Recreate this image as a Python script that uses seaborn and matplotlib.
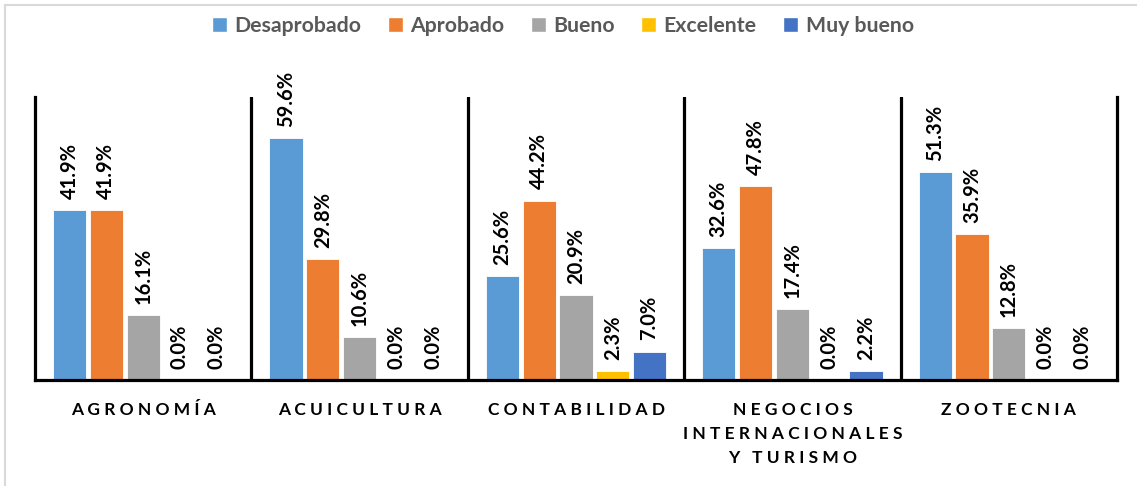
import seaborn as sns
import matplotlib.pyplot as plt
import pandas as pd
from matplotlib.patches import Patch
from matplotlib.lines import Line2D

# -------------- DONNEES -------------------#
carreras = ["AGRONOMÍA", "ACUICULTURA", "CONTABILIDAD",
            "NEGOCIOS\nINTERNACIONALES\nY TURISMO", "ZOOTECNIA"]
niveles = ["Desaprobado", "Aprobado", "Bueno", "Excelente", "Muy bueno"]
desaprobado = [41.9, 59.6, 25.6, 32.6, 51.3]
aprobado = [41.9, 29.8, 44.2, 47.8, 35.9]
bueno = [16.1, 10.6, 20.9, 17.4, 12.8]
excelente = [0.0, 0.0, 2.3, 0.0, 0.0]
muy_bueno = [0.0, 0.0, 7.0, 2.2, 0.0]
colores = ["#5B9BD5", "#ED7D31", "#A5A5A5", "#FFC000", "#4472C4"]

series = [desaprobado, aprobado, bueno, excelente, muy_bueno]
filas = []
for nivel, vals in zip(niveles, series):
    for c, v in zip(carreras, vals):
        filas.append({"carrera": c, "nivel": nivel, "pct": v})
df = pd.DataFrame(filas)


def espaciado(texto):
    # simulate letter spacing of the original labels
    lineas = []
    for linea in texto.split("\n"):
        palabras = [" ".join(p) for p in linea.split(" ")]
        lineas.append("   ".join(palabras))
    return "\n".join(lineas)


sns.set_theme(style="white")
plt.rcParams["font.family"] = ["Lato", "DejaVu Sans"]

fig = plt.figure(figsize=(11.37, 4.86), dpi=100)
ax = fig.add_axes([35 / 1137, 1 - 380 / 486, 1082 / 1137, 283 / 486])

sns.barplot(data=df, x="carrera", y="pct", hue="nivel", hue_order=niveles,
            order=carreras, palette=colores, saturation=1, width=0.85, gap=0.1,
            edgecolor="white", linewidth=0.6, ax=ax, legend=False)

for cont in ax.containers:
    ax.bar_label(cont, fmt="{:.1f}%", rotation=90, padding=8,
                 fontsize=14.5, fontweight="bold", color="black")

ax.set_xlim(-0.5, 4.5)
ax.set_ylim(0, 69.7)
ax.set_yticks([])
ax.set_xlabel("")
ax.set_ylabel("")
ax.set_xticks(range(len(carreras)))
ax.set_xticklabels([espaciado(c) for c in carreras], fontsize=12.5,
                   fontweight="bold", color="black", linespacing=1.6,
                   va="top")
ax.tick_params(axis="x", length=0, pad=16)

for s in ["left", "right", "bottom"]:
    ax.spines[s].set_color("black")
    ax.spines[s].set_linewidth(2.3)
ax.spines["top"].set_visible(False)
for xs in [0.5, 1.5, 2.5, 3.5]:
    ax.axvline(xs, color="black", linewidth=2.3)

handles = [Patch(facecolor=c, label=n) for c, n in zip(colores, niveles)]
leg = fig.legend(handles=handles, loc="center", bbox_to_anchor=(0.495, 0.946),
                 ncol=5, frameon=False, handlelength=0.7, handleheight=0.7,
                 handletextpad=0.35, columnspacing=1.25,
                 prop={"size": 15.3, "weight": "bold"})
for t in leg.get_texts():
    t.set_color("#595959")

# cadre gris clair
fig.add_artist(Line2D([5 / 1137, 5 / 1137], [0, 1 - 5 / 486], transform=fig.transFigure,
                      color="#D9D9D9", linewidth=1.5))
fig.add_artist(Line2D([5 / 1137, 1], [1 - 5 / 486, 1 - 5 / 486], transform=fig.transFigure,
                      color="#D9D9D9", linewidth=1.5))

plt.savefig("out.png", dpi=100)
